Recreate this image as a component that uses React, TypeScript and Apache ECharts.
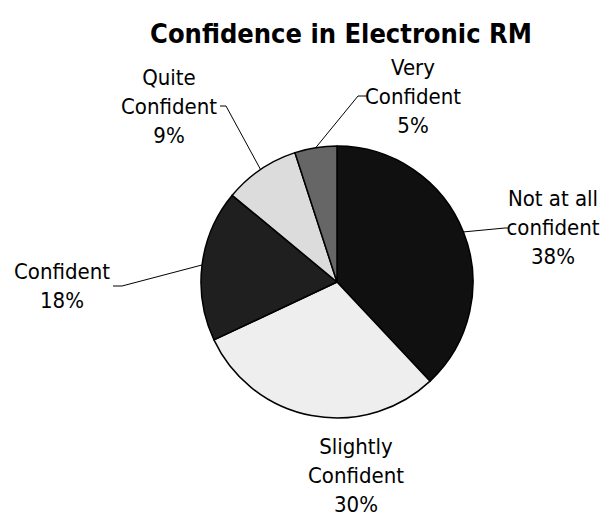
import React, { useEffect, useRef } from "react";
import * as echarts from "echarts";

const titleText = "Confidence in Electronic RM";
const categories = ["Not at all\nconfident", "Slightly\nConfident", "Confident", "Quite\nConfident", "Very\nConfident"];
const values = [38, 30, 18, 9, 5];
const colors = ["#101010", "#eeeeee", "#1f1f1f", "#dcdcdc", "#666666"];

const CX = 337;
const CY = 282;
const R = 136;
const FONT = "'DejaVu Sans Condensed', 'DejaVu Sans', sans-serif";

// label anchor (center x, top y) and leader bends, per slice
const labelPos = [
  { x: 553, y: 184, bend: [[505, 228], [508, 228]] },
  { x: 356, y: 432, bend: null },
  { x: 62, y: 257, bend: [[122, 286], [113, 286]] },
  { x: 169, y: 63, bend: [[226, 106], [220, 106]] },
  { x: 413, y: 53, bend: [[358, 96], [368, 96]] },
];

export default function App() {
  const ref = useRef<HTMLDivElement>(null);
  useEffect(() => {
    if (!ref.current) return;
    const chart = echarts.init(ref.current, undefined, { renderer: "svg" });
    const total = values.reduce((a, b) => a + b, 0);
    const mids: number[] = [];
    let acc = 0;
    values.forEach((v) => {
      mids.push((acc + v / 2) / total);
      acc += v;
    });
    chart.setOption({
      animation: false,
      backgroundColor: "#ffffff",
      title: {
        text: titleText,
        left: 336,
        top: 15,
        textAlign: "center",
        textStyle: { fontFamily: FONT, fontWeight: "bold", fontSize: 27, color: "#000" },
      },
      series: [
        {
          type: "pie",
          center: [CX, CY],
          radius: [0, R],
          startAngle: 90,
          clockwise: true,
          avoidLabelOverlap: false,
          itemStyle: { borderColor: "#000", borderWidth: 1.5 },
          label: {
            show: true,
            position: "outside",
            formatter: (p: any) => `${p.name}\n${p.value}%`,
            fontFamily: FONT,
            fontSize: 22,
            lineHeight: 29,
            color: "#000",
            align: "center",
          },
          labelLine: { show: true, lineStyle: { color: "#000", width: 1 }, length: 10, length2: 10 },
          labelLayout: (params: any) => {
            const i = params.dataIndex;
            const lp = labelPos[i];
            const ang = mids[i] * Math.PI * 2;
            const ex = CX + R * Math.sin(ang);
            const ey = CY - R * Math.cos(ang);
            const out: any = { x: lp.x, y: lp.y, align: "center", verticalAlign: "top" };
            if (lp.bend) {
              out.labelLinePoints = [[ex, ey], lp.bend[0], lp.bend[1]];
            }
            return out;
          },
          data: values.map((v, i) => ({
            name: categories[i],
            value: v,
            itemStyle: { color: colors[i] },
            labelLine: { show: labelPos[i].bend !== null },
          })),
        },
      ],
    });
    return () => chart.dispose();
  }, []);
  return <div ref={ref} style={{ position: "fixed", left: 0, top: 0, width: 604, height: 518 }} />;
}
